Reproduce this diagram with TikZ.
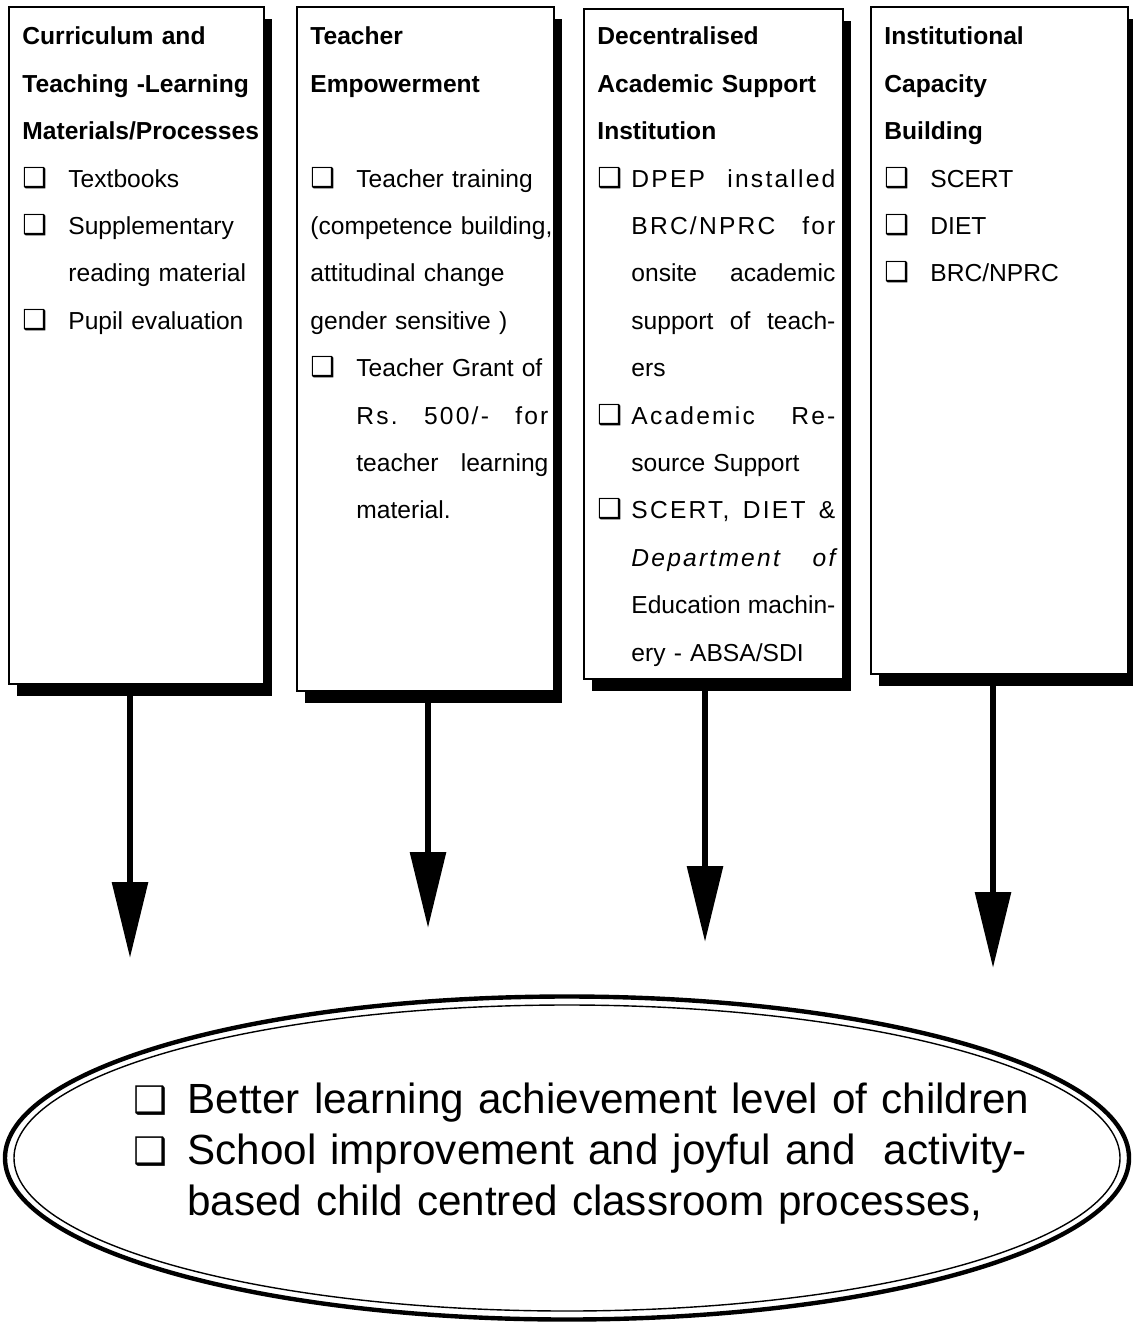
\documentclass[tikz,border=0pt]{standalone}
\usepackage{fontspec}
\setmainfont{Liberation Sans}
\newfontfamily\boxsym[Scale=1.12]{DejaVu Sans}
\newfontfamily\goalsym[Scale=0.9]{DejaVu Sans}
\usetikzlibrary{arrows.meta,shapes.geometric,shadows,calc}

\newlength\panelwd
\setlength\panelwd{119pt}
\newcommand\cbsym{{\boxsym ❑}}
\newcommand\spaced{\addfontfeature{LetterSpace=9}}
\newcommand\itemline[2][23pt]{\makebox[#1][l]{\cbsym}#2}
\newcommand\itemjust[2][23pt]{\makebox[#1][l]{\cbsym}\makebox[\dimexpr\panelwd-#1\relax][s]{#2}}
\newcommand\contline[2][23pt]{\hspace*{#1}#2}
\newcommand\contjust[2][23pt]{\hspace*{#1}\makebox[\dimexpr\panelwd-#1\relax][s]{#2}}

\begin{document}
\begin{tikzpicture}[x=0.5pt,y=-0.5pt]
\tikzset{panel/.style = {draw, line width=1pt, fill=white, inner sep=0pt, anchor=north west,
  drop shadow={shadow xshift=4pt, shadow yshift=-6pt, opacity=1, fill=black}}}
\tikzset{paneltext/.style = {anchor=base west, inner sep=0pt, text width=\panelwd,
  font=\fontsize{12.3pt}{23.7pt}\selectfont}}
\tikzset{outcome/.style = {ellipse, draw, line width=2.2pt, inner sep=0pt,
  minimum width=562pt, minimum height=161.5pt}}
\tikzset{flow/.style = {line width=3pt, -{Triangle[width=17.5pt,length=38pt]}}}
\useasboundingbox (0,0) rectangle (1132,1325);

% the four boxes
\node[panel, minimum width=127.5pt, minimum height=338.5pt] (cur) at (8,6) {};
\node[panel, minimum width=128.5pt, minimum height=342pt] (emp) at (296,6) {};
\node[panel, minimum width=129.5pt, minimum height=335pt] (dec) at (583,8) {};
\node[panel, minimum width=128.5pt, minimum height=333.5pt] (cap) at (870,6) {};

\node[paneltext] (curtxt) at ($(cur.north west)+(14,39)$) {%
\textbf{Curriculum and}\\
\textbf{Teaching -Learning}\\
\textbf{Materials/Processes}\\
\itemline{Textbooks}\\
\itemline{Supplementary}\\
\contline{reading material}\\
\itemline{Pupil evaluation}};

\node[paneltext] (emptxt) at ($(emp.north west)+(14,39)$) {%
\textbf{Teacher}\\
\textbf{Empowerment}\\
\mbox{}\\
\itemline{Teacher training}\\
\makebox[\panelwd][s]{(competence building,}\\
attitudinal change\\
gender sensitive )\\
\itemjust{Teacher Grant of}\\
\contjust{\spaced Rs.\hfill 500/-\hfill for}\\
\contjust{teacher\hfill learning}\\
\contline{material.}};

\node[paneltext] (dectxt) at ($(dec.north west)+(14,37)$) {%
\textbf{Decentralised}\\
\textbf{Academic Support}\\
\textbf{Institution}\\
\itemjust[17pt]{\spaced DPEP\hfill installed}\\
\contjust[17pt]{\spaced BRC/NPRC\hfill for}\\
\contjust[17pt]{onsite\hfill academic}\\
\contjust[17pt]{support\hfill of\hfill teach-}\\
\contline[17pt]{ers}\\
\itemjust[17pt]{\spaced Academic\hfill Re-}\\
\contline[17pt]{source Support}\\
\itemjust[17pt]{\spaced SCERT,\hfill DIET\hfill \&}\\
\contjust[17pt]{\itshape\spaced Department\hfill of}\\
\contjust[17pt]{Education\hfill machin-}\\
\contline[17pt]{ery - ABSA/SDI}};

\node[paneltext] (captxt) at ($(cap.north west)+(14,39)$) {%
\textbf{Institutional}\\
\textbf{Capacity}\\
\textbf{Building}\\
\itemline{SCERT}\\
\itemline{DIET}\\
\itemline{BRC/NPRC}};

% the outcome
\node[outcome] (out) at (567,1158) {};
\draw[line width=0.7pt] (out.center) ellipse [x radius=276.5pt, y radius=76.5pt];
\node[anchor=base west, inner sep=0pt, text width=460pt,
  font=\fontsize{21.1pt}{25.5pt}\selectfont\let\boxsym\goalsym] (goal) at (133,1113) {%
\itemline[27pt]{Better learning achievement level of children}\\
\itemline[27pt]{School improvement and joyful and\ \ activity-}\\
\contline[27pt]{based child centred classroom processes,}};

% arrows
\coordinate (tip1) at (130,958);
\coordinate (tip2) at (428,928);
\coordinate (tip3) at (705,942);
\coordinate (tip4) at (993,968);
\draw[flow] (cur.south -| tip1) -- (tip1);
\draw[flow] (emp.south -| tip2) -- (tip2);
\draw[flow] (dec.south -| tip3) -- (tip3);
\draw[flow] (cap.south -| tip4) -- (tip4);
\end{tikzpicture}
\end{document}
